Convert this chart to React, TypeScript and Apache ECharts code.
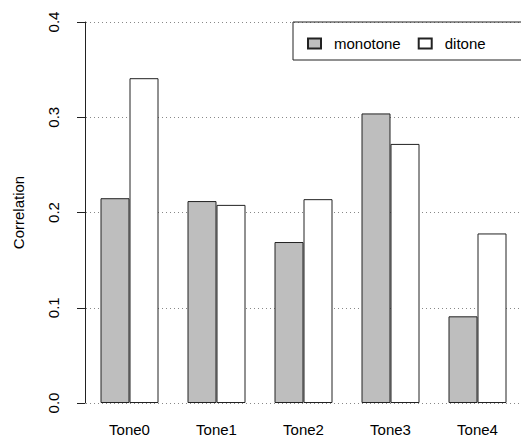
import React, { useEffect, useRef } from "react";
import * as echarts from "echarts";

const categories = ["Tone0", "Tone1", "Tone2", "Tone3", "Tone4"];
const monotone = [0.215, 0.212, 0.169, 0.304, 0.091];
const ditone = [0.341, 0.208, 0.214, 0.272, 0.178];
const seriesNames = ["monotone", "ditone"];
const yTicks = { min: 0, max: 0.4, interval: 0.1 };

const FONT = "'Liberation Sans', Arial, Helvetica, sans-serif";

export default function App() {
  const ref = useRef<HTMLDivElement>(null);
  useEffect(() => {
    if (!ref.current) return;
    const chart = echarts.init(ref.current, null, { renderer: "svg" });
    chart.setOption({
      animation: false,
      backgroundColor: "#ffffff",
      grid: { left: 86, right: -1, top: 22, bottom: 38 },
      legend: {
        data: seriesNames,
        left: 307,
        top: 36,
        icon: "rect",
        itemWidth: 13,
        itemHeight: 10,
        itemGap: 17,
        padding: 0,
        textStyle: { fontFamily: FONT, fontSize: 15, color: "#000", padding: [0, 0, 0, 8] },
      },
      graphic: [
        {
          type: "rect",
          shape: { x: 293, y: 22, width: 240, height: 38 },
          style: { fill: "none", stroke: "#222", lineWidth: 1 },
          z: 10,
        },
      ],
      xAxis: {
        type: "category",
        data: categories,
        axisLine: { show: false },
        axisTick: { show: false },
        axisLabel: { fontFamily: FONT, fontSize: 15, color: "#000", margin: 19 },
      },
      yAxis: {
        type: "value",
        min: yTicks.min,
        max: yTicks.max,
        interval: yTicks.interval,
        offset: 1,
        name: "Correlation",
        nameLocation: "middle",
        nameRotate: 90,
        nameGap: 59,
        nameTextStyle: { fontFamily: FONT, fontSize: 15, color: "#000" },
        axisLine: { show: true, lineStyle: { color: "#222", width: 1 } },
        axisTick: { show: true, length: 8, lineStyle: { color: "#222" } },
        axisLabel: {
          rotate: 90,
          fontFamily: FONT,
          fontSize: 15,
          color: "#000",
          margin: 24,
          formatter: (v: number) => v.toFixed(1),
        },
        splitLine: { show: true, lineStyle: { color: "#888", type: [1, 3], width: 1 } },
      },
      series: [
        {
          name: seriesNames[0],
          type: "bar",
          data: monotone,
          barWidth: 29,
          barGap: "0%",
          itemStyle: { color: "#bebebe", borderColor: "#222", borderWidth: 1 },
        },
        {
          name: seriesNames[1],
          type: "bar",
          data: ditone,
          barWidth: 29,
          barGap: "0%",
          itemStyle: { color: "#ffffff", borderColor: "#222", borderWidth: 1 },
        },
      ],
    });
    return () => chart.dispose();
  }, []);
  return <div ref={ref} style={{ width: 521, height: 441, position: "absolute", left: 0, top: 0 }} />;
}
